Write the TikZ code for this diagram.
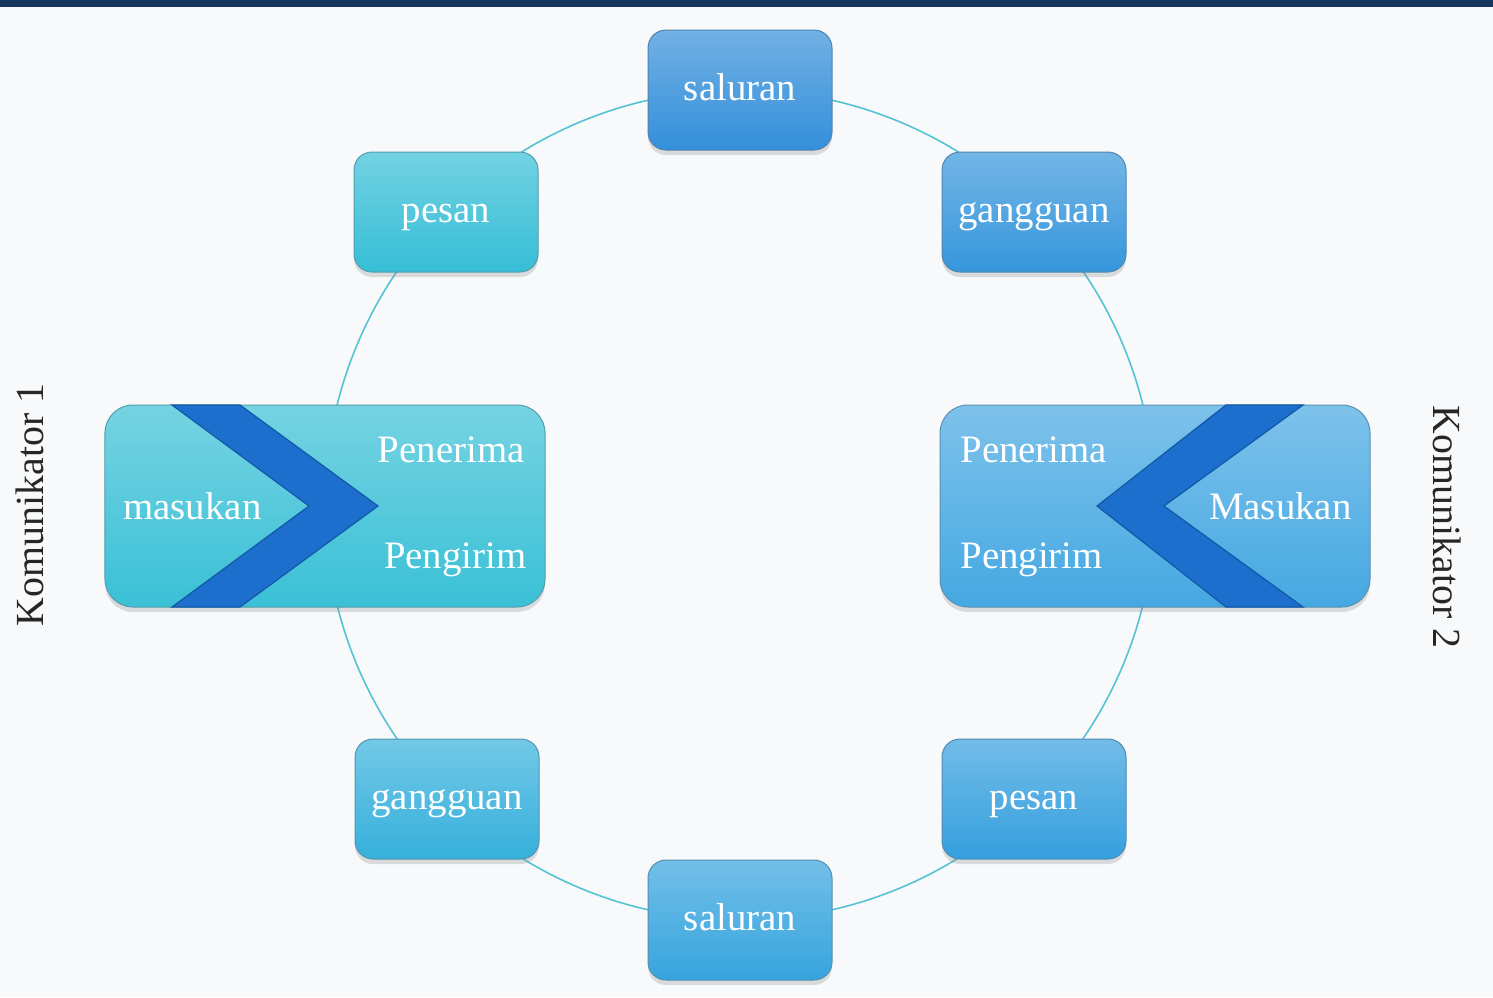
\documentclass[tikz,border=0pt]{standalone}
\usepackage{fontspec}
\setmainfont{Liberation Serif}
\usepackage{tikz}
\usetikzlibrary{shadows}

\definecolor{barblue}{HTML}{17365D}
\definecolor{paper}{HTML}{F8F9FA}
\definecolor{ring}{HTML}{55C3D6}
\definecolor{chevfill}{HTML}{1C6FCC}
\definecolor{chevline}{HTML}{1358A8}
\definecolor{salurA}{HTML}{348FDA}
\definecolor{pesanA}{HTML}{36BED6}
\definecolor{gangA}{HTML}{3696DC}
\definecolor{komA}{HTML}{3AC0D6}
\definecolor{komB}{HTML}{45A8E2}
\definecolor{gangB}{HTML}{36B0DC}
\definecolor{pesanB}{HTML}{359FDE}
\definecolor{salurB}{HTML}{36A4DE}

\tikzset{
	tile/.style={rounded corners=9bp, minimum width=92bp, minimum height=60bp,
		top color=#1!70!white, bottom color=#1, draw=#1!70!black!80, line width=0.5bp,
		text=white, font=\fontsize{19.5}{23}\selectfont, text height=14.6bp, text depth=4.1bp,
		drop shadow={opacity=0.25, shadow xshift=0bp, shadow yshift=-2.5bp}},
	bigtile/.style={tile=#1, rounded corners=14bp, minimum width=220bp, minimum height=101bp},
	lbl/.style={text=white, inner sep=0pt, font=\fontsize{19.5}{23}\selectfont},
	side/.style={text=black!85, inner sep=0pt, font=\fontsize{20}{24}\selectfont},
	chev/.style={fill=chevfill, draw=chevline, line width=0.6bp}
}

\begin{document}
\begin{tikzpicture}[x=0.5bp,y=-0.5bp]
	\useasboundingbox (0,0) rectangle (1493,997);
	\fill[paper] (0,0) rectangle (1493,997);
	\fill[barblue] (0,0) rectangle (1493,7);

	\coordinate (mid) at (740,505);
	\draw[ring, line width=0.8bp] (mid) circle[radius=207.5bp];

	\node[tile=salurA] (sal1) at (740,90)  {saluran};
	\node[tile=pesanA] (pes1) at (446,212) {pesan};
	\node[tile=gangA]  (gan1) at (1034,212) {gangguan};
	\node[tile=gangB]  (gan2) at (447,799) {gangguan};
	\node[tile=pesanB] (pes2) at (1034,799) {pesan};
	\node[tile=salurB] (sal2) at (740,920) {saluran};

	\node[bigtile=komA] (kom1) at (325,506) {};
	\node[bigtile=komB, minimum width=215bp] (kom2) at (1155,506) {};

	\draw[chev] (172,405) -- (240,405) -- (378,506) -- (240,607) -- (172,607) -- (309,506) -- cycle;
	\draw[chev] (1303,405) -- (1226,405) -- (1097,506) -- (1226,607) -- (1303,607) -- (1164,506) -- cycle;

	\node[lbl, anchor=east] (ter1) at (525,450) {Penerima};
	\node[lbl, anchor=east] (kir1) at (527,560) {Pengirim};
	\node[lbl, anchor=west] (mas1) at (123,506) {masukan};
	\node[lbl, anchor=west] (ter2) at (960,450) {Penerima};
	\node[lbl, anchor=west] (kir2) at (960,560) {Pengirim};
	\node[lbl, anchor=east] (mas2) at (1352,506) {Masukan};

	\node[side, rotate=90]  (k1) at (30,505)   {Komunikator 1};
	\node[side, rotate=-90] (k2) at (1447,527) {Komunikator 2};
\end{tikzpicture}
\end{document}
